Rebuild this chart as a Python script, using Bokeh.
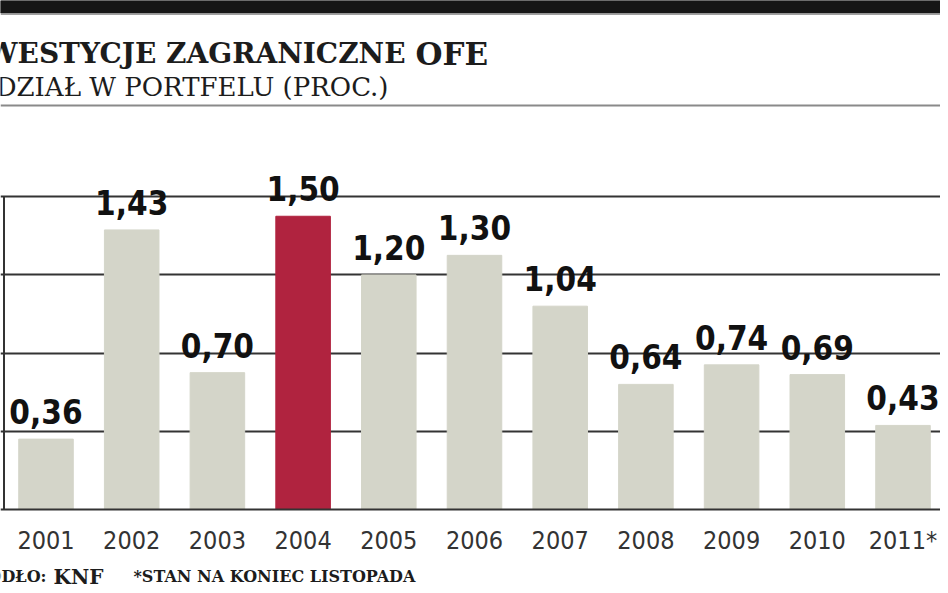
from bokeh.plotting import figure
from bokeh.models import Range1d, ColumnDataSource, LabelSet, Span, Grid, FixedTicker, Label
from bokeh.core.properties import value
from bokeh.embed import file_html
from bokeh.resources import INLINE

# ---- data ----
years = ["2001", "2002", "2003", "2004", "2005", "2006", "2007", "2008", "2009", "2010", "2011*"]
shares = [0.36, 1.43, 0.70, 1.50, 1.20, 1.30, 1.04, 0.64, 0.74, 0.69, 0.43]
highlight_year = "2004"
grid_ticks = [0.4, 0.8, 1.2, 1.6]

title_main = "INWESTYCJE ZAGRANICZNE"
title_tail = "OFE"
subtitle = "UDZIAŁ W PORTFELU (PROC.)"
source_lbl = "ŹRÓDŁO:"
source_val = "KNF"
footnote = "*STAN NA KONIEC LISTOPADA"

# ---- layout helpers (reference pixel -> data) ----
W, H = 940, 585
OX, OY = 0, 0
X0_REF, STEP = 45.5, 85.7
BASE_REF, PPU = 509.0, 195.5


def xd(rx):
    return (rx - X0_REF) / STEP


def yd(ry):
    return (BASE_REF - ry) / PPU


GRAY = "#d4d5c9"
RED = "#b0233f"
INK = "#1c1c1c"
NARROW = "DejaVu Sans Condensed"
SERIF = "DejaVu Serif"

idx = list(range(len(years)))
colors = [RED if y == highlight_year else GRAY for y in years]
labels = [f"{v:.2f}".replace(".", ",") for v in shares]
src = ColumnDataSource(dict(x=idx, top=shares, color=colors, label=labels, year=years))

p = figure(width=W, height=H, output_backend="svg", toolbar_location=None,
           x_range=Range1d(xd(OX), xd(OX + W)), y_range=Range1d(yd(OY + H), yd(OY)),
           x_axis_type=None, y_axis_type=None, min_border=0,
           outline_line_color=None, background_fill_color="white", border_fill_color="white")
p.min_border_left = p.min_border_right = p.min_border_top = p.min_border_bottom = 0

# grid
p.add_layout(Grid(dimension=1, ticker=FixedTicker(ticks=grid_ticks),
                  grid_line_color="#333333", grid_line_width=1.8))

# bars
p.vbar(x="x", top="top", bottom=0, width=55 / 86.4, color="color", source=src)

# baseline and left axis line
p.add_layout(Span(location=0, dimension="width", line_color="#333333", line_width=2.2))
p.segment(x0=[xd(3.5)], x1=[xd(3.5)], y0=[0], y1=[grid_ticks[-1]], line_color="#333333", line_width=2)

# value labels
p.add_layout(LabelSet(x="x", y="top", text="label", source=src, y_offset=15,
                      text_align="center", text_baseline="alphabetic",
                      text_font=value(NARROW), text_font_style="bold", text_font_size="33px",
                      text_color="#111111"))

# year labels
p.add_layout(LabelSet(x="x", y=yd(548), text="year", source=src,
                      text_align="center", text_baseline="alphabetic",
                      text_font=value(NARROW), text_font_size="25px",
                      text_color="#333333"))

# header decorations
p.quad(left=[xd(OX)], right=[xd(OX + W)], top=[yd(0)], bottom=[yd(12.5)], color="#161616")
p.add_layout(Span(location=yd(13.8), dimension="width", line_color="#a0a0a0", line_width=1.5))
p.add_layout(Span(location=yd(105), dimension="width", line_color="#8a8a8a", line_width=2))


def lab(text, rx, ry, size, align="left", style="bold"):
    p.add_layout(Label(x=xd(rx), y=yd(ry), text=text, text_align=align,
                       text_baseline="alphabetic", text_font=SERIF,
                       text_font_style=style, text_font_size=size, text_color=INK))


lab(title_main, 405, 53, "28px", align="right")
lab(title_tail, 415, 53, "31px")
lab(subtitle, 388, 86, "26px", align="right", style="normal")
lab(source_lbl, 46, 576, "16px", align="right")
lab(source_val, 53, 576, "20px")
lab(footnote, 133, 576, "16px")

open("out.html", "w").write(file_html(p, INLINE))
